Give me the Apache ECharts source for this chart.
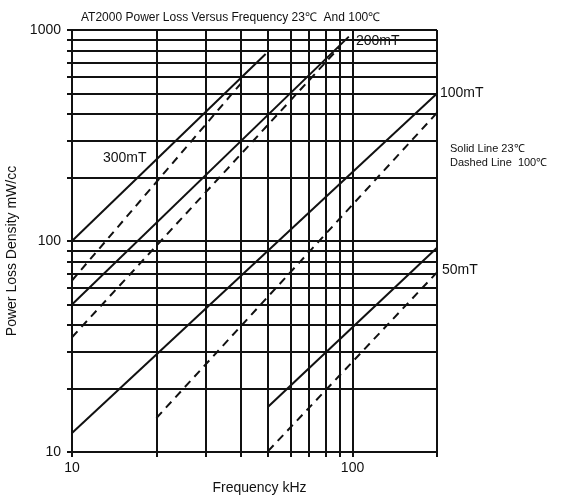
<!DOCTYPE html>
<html><head><meta charset="utf-8">
<script src="https://cdn.jsdelivr.net/npm/echarts@6/dist/echarts.min.js"></script>
<style>html,body{margin:0;padding:0;background:#fff}#c{width:566px;height:495px}</style>
</head><body><div id="c"></div>
<script>
// grid / tick values
const xGrid = [10, 20, 30, 40, 50, 60, 70, 80, 90, 100, 200];
const yGrid = [10, 20, 30, 40, 50, 60, 70, 80, 90, 100, 200, 300, 400, 500, 600, 700, 800, 900, 1000];
const xLabels = [10, 100];
const yLabels = [10, 100, 1000];

// Solid lines: 23°C  (frequency kHz, mW/cc)
const solid300 = [[10, 100], [49, 770]];
const solid200 = [[10, 50], [97, 930]];
const solid100 = [[10, 12.3], [200, 500]];
const solid50 = [[50, 16.4], [200, 93]];
// Dashed lines: 100°C
const dashed300 = [[10, 65], [41, 580]];
const dashed200 = [[10, 35], [90, 830]];
const dashed100 = [[20, 14.5], [200, 405]];
const dashed50 = [[50, 10.1], [200, 71]];

const INK = '#111';
const FONT = 'Liberation Sans, Arial, sans-serif';

function mk(name, data, dashed) {
  return {
    name: name, type: 'line', data: data, symbol: 'none', silent: true,
    lineStyle: { color: INK, width: 2, type: dashed ? [8, 6] : 'solid' },
    z: 3
  };
}

const chart = echarts.init(document.getElementById('c'), null, { renderer: 'canvas' });
chart.setOption({
  backgroundColor: '#fff',
  animation: false,
  title: {
    text: 'AT2000 Power Loss Versus Frequency 23\u2103  And 100\u2103',
    left: 76, top: 7,
    textStyle: { fontFamily: FONT, fontSize: 12, fontWeight: 'normal', color: INK }
  },
  grid: { left: 72, right: 129, top: 30, bottom: 43, outerBoundsMode: 'none', containLabel: false },
  xAxis: {
    type: 'log', logBase: 10, min: 10, max: 200,
    name: 'Frequency kHz', nameLocation: 'middle', nameGap: 29,
    nameTextStyle: { fontFamily: FONT, fontSize: 14, color: INK, padding: [0, 0, 0, 10] },
    axisLine: { show: true, lineStyle: { color: INK, width: 2 } },
    axisTick: { show: true, length: 5, inside: false, customValues: xGrid, lineStyle: { color: INK, width: 2 } },
    axisLabel: { customValues: xLabels, fontFamily: FONT, fontSize: 14, color: INK, margin: 9, formatter: function (v) { return String(v); } },
    splitLine: { show: true, lineStyle: { color: INK, width: 2 } },
    minorTick: { show: false }, minorSplitLine: { show: false }
  },
  yAxis: {
    type: 'log', logBase: 10, min: 10, max: 1000,
    name: 'Power Loss Density mW/cc', nameLocation: 'middle', nameGap: 49,
    nameTextStyle: { fontFamily: FONT, fontSize: 14, color: INK, padding: [0, 20, 0, 0] },
    axisLine: { show: true, lineStyle: { color: INK, width: 2 } },
    axisTick: { show: true, length: 5, inside: false, customValues: yGrid, lineStyle: { color: INK, width: 2 } },
    axisLabel: { customValues: yLabels, fontFamily: FONT, fontSize: 14, color: INK, margin: 11, formatter: function (v) { return String(v); } },
    splitLine: { show: true, lineStyle: { color: INK, width: 2 } },
    minorTick: { show: false }, minorSplitLine: { show: false }
  },
  graphic: [
    { type: 'text', x: 103, y: 158, style: { text: '300mT', font: '14px ' + FONT, fill: INK, textVerticalAlign: 'middle' }, z: 10 },
    { type: 'text', x: 356, y: 41, style: { text: '200mT', font: '14px ' + FONT, fill: INK, textVerticalAlign: 'middle' }, z: 0 },
    { type: 'text', x: 440, y: 93, style: { text: '100mT', font: '14px ' + FONT, fill: INK, textVerticalAlign: 'middle' }, z: 10 },
    { type: 'text', x: 442, y: 270, style: { text: '50mT', font: '14px ' + FONT, fill: INK, textVerticalAlign: 'middle' }, z: 10 },
    { type: 'text', x: 450, y: 149, style: { text: 'Solid Line 23\u2103', font: '11px ' + FONT, fill: INK, textVerticalAlign: 'middle' }, z: 10 },
    { type: 'text', x: 450, y: 163, style: { text: 'Dashed Line  100\u2103', font: '11px ' + FONT, fill: INK, textVerticalAlign: 'middle' }, z: 10 }
  ],
  series: [
    mk('300mT 23\u2103', solid300, false),
    mk('200mT 23\u2103', solid200, false),
    mk('100mT 23\u2103', solid100, false),
    mk('50mT 23\u2103', solid50, false),
    mk('300mT 100\u2103', dashed300, true),
    mk('200mT 100\u2103', dashed200, true),
    mk('100mT 100\u2103', dashed100, true),
    mk('50mT 100\u2103', dashed50, true)
  ]
});
</script></body></html>
